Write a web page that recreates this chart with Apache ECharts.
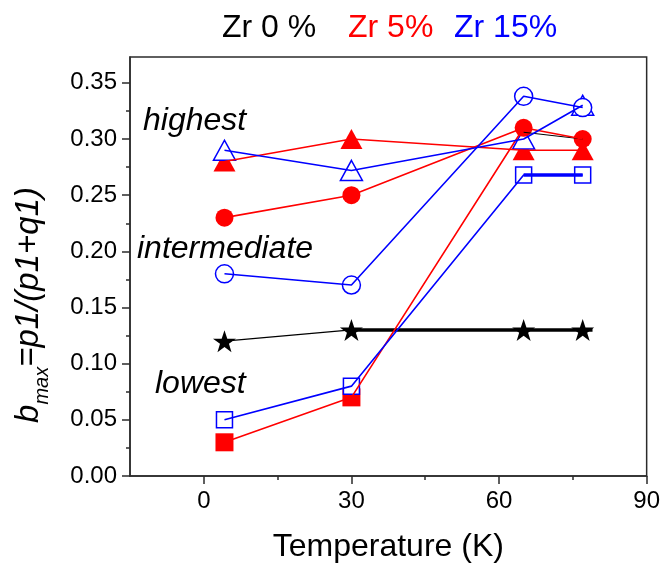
<!DOCTYPE html>
<html>
<head>
<meta charset="utf-8">
<script src="https://cdn.jsdelivr.net/npm/echarts@6/dist/echarts.min.js"></script>
<style>
  html, body { margin: 0; padding: 0; background: #fff; }
  #chart { width: 663px; height: 568px; }
</style>
</head>
<body>
<div id="chart"></div>
<script>
// Measurement temperatures (K)
const temperatures = [4.2, 30, 65, 77];

// Zr 0 % (black stars)
const zr0Star = [0.12, 0.13, 0.13, 0.13];
const zr0ThickT = [30, 79];
const zr0ThickV = [0.13, 0.13];
const zr0HighT = [65, 77];
const zr0HighV = [0.306, 0.300];

// Zr 5% (red, filled symbols)
const zr5Triangle = [0.28, 0.30, 0.29, 0.29];
const zr5Circle = [0.23, 0.25, 0.31, 0.30];
const zr5SquareT = [4.2, 30, 65];
const zr5Square = [0.03, 0.07, 0.31];

// Zr 15% (blue, open symbols)
const zr15Triangle = [0.29, 0.272, 0.30, 0.33];
const zr15Circle = [0.18, 0.17, 0.338, 0.328];
const zr15Square = [0.05, 0.08, 0.268, 0.268];

// Axis ticks
const xMajorTicks = [0, 30, 60, 90];
const xMinorTicks = [15, 45, 75];
const yMajorTicks = [0, 0.05, 0.10, 0.15, 0.20, 0.25, 0.30, 0.35];
const yMinorTicks = [0.025, 0.075, 0.125, 0.175, 0.225, 0.275, 0.325];

const legendNames = ['Zr 0 %', 'Zr 5%', 'Zr 15%'];
const regimeNames = ['highest', 'intermediate', 'lowest'];

const BLACK = '#000000';
const RED = '#ff0000';
const BLUE = '#0000ff';
const AXIS = '#2b2b2b';
const FONT = '"Liberation Sans", Arial, sans-serif';
const STAR = 'path://M50,0 L61.8,35.1 L98.1,35.1 L68.7,56.8 L79.4,91.4 L50,70 L20.6,91.4 L31.3,56.8 L1.9,35.1 L38.2,35.1 Z';

const pairs = (xs, ys) => xs.map((x, i) => [x, ys[i]]);

function markers(values, symbol, size, color, hollow, xs) {
  return {
    type: 'scatter',
    data: pairs(xs || temperatures, values),
    symbol: symbol,
    symbolSize: size,
    itemStyle: hollow
      ? { color: '#ffffff', borderColor: color, borderWidth: 1.5, opacity: 1 }
      : { color: color, opacity: 1 },
    silent: true,
    animation: false
  };
}

function connector(xs, values, color, width) {
  return {
    type: 'line',
    data: pairs(xs, values),
    showSymbol: false,
    symbol: 'none',
    lineStyle: { color: color, width: width },
    silent: true,
    animation: false
  };
}

const chart = echarts.init(document.getElementById('chart'), null, { renderer: 'canvas' });

const axisCommon = {
  axisLine: { onZero: false, lineStyle: { color: AXIS, width: 1.5 } },
  splitLine: { show: false }
};

chart.setOption({
  animation: false,
  grid: { left: 130, right: 14, top: 57, bottom: 88, show: true, borderColor: AXIS, borderWidth: 1.5 },
  xAxis: [
    Object.assign({}, axisCommon, {
      type: 'value', min: -15, max: 90,
      axisTick: { customValues: xMajorTicks, length: 8, lineStyle: { color: AXIS, width: 1.5 } },
      axisLabel: { customValues: xMajorTicks, margin: 13, fontSize: 24, color: '#000', fontFamily: FONT },
      name: 'Temperature (K)', nameLocation: 'middle', nameGap: 55,
      nameTextStyle: { fontSize: 32, color: '#000', fontFamily: FONT }
    }),
    {
      type: 'value', min: -15, max: 90, position: 'bottom',
      axisLine: { show: false, onZero: false },
      axisTick: { customValues: xMinorTicks, length: 4, lineStyle: { color: AXIS, width: 1.5 } },
      axisLabel: { show: false }, splitLine: { show: false }
    }
  ],
  yAxis: [
    Object.assign({}, axisCommon, {
      type: 'value', min: 0, max: 0.373,
      axisTick: { customValues: yMajorTicks, length: 8, lineStyle: { color: AXIS, width: 1.5 } },
      axisLabel: { customValues: yMajorTicks, margin: 13, fontSize: 24, color: '#000', fontFamily: FONT,
                   formatter: v => v.toFixed(2) }
    }),
    {
      type: 'value', min: 0, max: 0.373, position: 'left',
      axisLine: { show: false, onZero: false },
      axisTick: { customValues: yMinorTicks, length: 4, lineStyle: { color: AXIS, width: 1.5 } },
      axisLabel: { show: false }, splitLine: { show: false }
    }
  ],
  graphic: [
    { type: 'text', left: 222, top: 12, style: { text: legendNames[0], fill: BLACK, font: '32px ' + FONT } },
    { type: 'text', left: 348, top: 12, style: { text: legendNames[1], fill: RED, font: '32px ' + FONT } },
    { type: 'text', left: 454, top: 12, style: { text: legendNames[2], fill: BLUE, font: '32px ' + FONT } },
    { type: 'text', x: 143, y: 121, style: { text: regimeNames[0], fill: BLACK, font: 'italic 32px ' + FONT, verticalAlign: 'middle' } },
    { type: 'text', x: 137, y: 249, style: { text: regimeNames[1], fill: BLACK, font: 'italic 32px ' + FONT, verticalAlign: 'middle' } },
    { type: 'text', x: 155, y: 384, style: { text: regimeNames[2], fill: BLACK, font: 'italic 32px ' + FONT, verticalAlign: 'middle' } },
    {
      type: 'text', x: 29, y: 305, rotation: Math.PI / 2,
      style: {
        text: '{b|b}{s|max}{t|=p1/(p1+q1)}',
        align: 'center', verticalAlign: 'middle',
        rich: {
          b: { fontSize: 33, fontStyle: 'italic', fontFamily: FONT, fill: BLACK, lineHeight: 33, verticalAlign: 'top' },
          s: { fontSize: 20, fontStyle: 'italic', fontFamily: FONT, fill: BLACK, lineHeight: 20, verticalAlign: 'top', padding: [20, 0, 0, 0] },
          t: { fontSize: 33, fontStyle: 'italic', fontFamily: FONT, fill: BLACK, lineHeight: 33, verticalAlign: 'top' }
        }
      }
    }
  ],
  series: [
    // symbols, back to front
    markers(zr5Triangle, 'triangle', [22, 20], RED, false),
    markers(zr15Triangle, 'triangle', [22, 20], BLUE, true),
    markers(zr5Circle, 'circle', 18, RED, false),
    markers(zr15Circle, 'circle', 18, BLUE, true),
    markers(zr5Square.slice(0, 2), 'rect', 18, RED, false, zr5SquareT.slice(0, 2)),
    markers(zr15Square, 'rect', 16, BLUE, true),
    markers(zr0Star, STAR, [23, 22], BLACK, false),
    // connecting lines
    connector(temperatures, zr0Star, BLACK, 1.3),
    connector(zr0ThickT, zr0ThickV, BLACK, 3.5),
    connector(zr0HighT, zr0HighV, BLACK, 1),
    connector(temperatures, zr5Triangle, RED, 1.6),
    connector(temperatures, zr5Circle, RED, 1.6),
    connector(zr5SquareT, zr5Square, RED, 1.6),
    connector(temperatures, zr15Triangle, BLUE, 1.6),
    connector(temperatures, zr15Circle, BLUE, 1.6),
    connector(temperatures, zr15Square, BLUE, 1.6),
    connector(temperatures.slice(2), zr15Square.slice(2), BLUE, 3.5)
  ]
});
</script>
</body>
</html>
